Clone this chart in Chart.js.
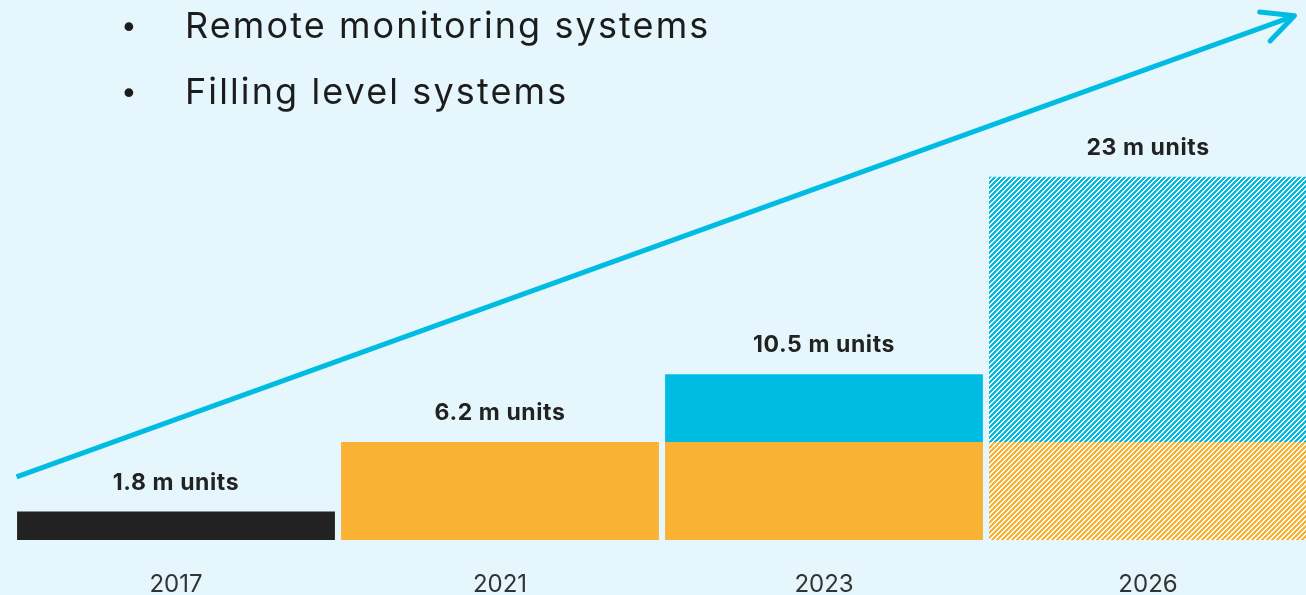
<!DOCTYPE html>
<html>
<head>
<meta charset="utf-8">
<script src="https://cdn.jsdelivr.net/npm/chart.js@4.4.1/dist/chart.umd.min.js"></script>
<style>
  html, body { margin: 0; padding: 0; width: 1306px; height: 595px; overflow: hidden; background: #E5F7FC; }
  #wrap { position: absolute; left: 0; top: 0; width: 1310px; height: 595px; }
  .bullets { position: absolute; left: 0; top: -8px; margin: 0; padding: 0; list-style: none;
             font-family: Inter, "Open Sans", sans-serif; font-size: 36px; line-height: 66px;
             letter-spacing: 2.1px; color: #1c1c1c; }
  .bullets li { position: relative; padding-left: 185px; white-space: nowrap; }
  .bullets li::before { content: "•"; position: absolute; left: 121px; font-size: 28px; letter-spacing: 0; }
</style>
</head>
<body>
<div id="wrap"><canvas id="chart"></canvas></div>
<ul class="bullets">
  <li>Remote monitoring systems</li>
  <li>Filling level systems</li>
</ul>
<script>
// Market size (million units) by year
const years = ['2017', '2021', '2023', '2026'];
const total2017 = [1.8, null, null, null];
const fillingLevel = [null, 6.2, 6.2, null];
const remoteMonitoring = [null, null, 4.3, null];
const fillingLevelForecast = [null, null, null, 6.2];
const remoteMonitoringForecast = [null, null, null, 16.8];

// Growth arrow end points (fraction of plot width, million units)
const arrowX = [0.002, 0.988];
const arrowY = [4.0, 33.2];

const BLUE = '#00BCE2';
const ORANGE = '#F9B233';
const BLACK = '#222222';

// Diagonal stripe fill for forecast bars
function stripes(color) {
  const size = 5;
  const c = document.createElement('canvas');
  c.width = size; c.height = size;
  const g = c.getContext('2d');
  g.fillStyle = '#ffffff';
  g.fillRect(0, 0, size, size);
  g.fillStyle = color;
  for (let y = 0; y < size; y++) {
    for (let x = 0; x < size; x++) {
      if ((x + y) % size < 3) g.fillRect(x, y, 1, 1);
    }
  }
  return g.createPattern(c, 'repeat');
}

const barSeries = [total2017, fillingLevel, remoteMonitoring, fillingLevelForecast, remoteMonitoringForecast];
const totals = years.map((_, i) => barSeries.reduce((s, arr) => s + (arr[i] || 0), 0));

const totalLabels = {
  id: 'totalLabels',
  afterDatasetsDraw(chart) {
    const { ctx, scales } = chart;
    ctx.save();
    ctx.font = 'bold 23px Inter, "Open Sans", sans-serif';
    if ('letterSpacing' in ctx) ctx.letterSpacing = '0.6px';
    ctx.fillStyle = '#222222';
    ctx.textAlign = 'center';
    ctx.textBaseline = 'middle';
    totals.forEach((t, i) => {
      const x = scales.x.getPixelForValue(i);
      const y = scales.y.getPixelForValue(t);
      const txt = (Math.round(t * 10) / 10).toString() + ' m units';
      ctx.fillText(txt, x, y - 29);
    });
    ctx.restore();
  }
};

const arrowHead = {
  id: 'arrowHead',
  afterDatasetsDraw(chart) {
    const idx = chart.data.datasets.findIndex(d => d.type === 'line');
    const pts = chart.getDatasetMeta(idx).data;
    const a = pts[pts.length - 2], b = pts[pts.length - 1];
    const ang = Math.atan2(a.y - b.y, a.x - b.x);
    const len = 35, spread = 26 * Math.PI / 180;
    const ctx = chart.ctx;
    ctx.save();
    ctx.strokeStyle = BLUE;
    ctx.lineWidth = 5;
    ctx.lineCap = 'round';
    ctx.lineJoin = 'round';
    ctx.beginPath();
    ctx.moveTo(b.x + len * Math.cos(ang + spread), b.y + len * Math.sin(ang + spread));
    ctx.lineTo(b.x, b.y);
    ctx.lineTo(b.x + len * Math.cos(ang - spread), b.y + len * Math.sin(ang - spread));
    ctx.stroke();
    ctx.restore();
  }
};

const barCommon = { barPercentage: 1, categoryPercentage: 0.981, borderWidth: 0, grouped: false, xAxisID: 'x', yAxisID: 'y' };

new Chart(document.getElementById('chart'), {
  type: 'bar',
  data: {
    labels: years,
    datasets: [
      { label: 'Total', data: total2017, backgroundColor: BLACK, ...barCommon },
      { label: 'Filling level systems', data: fillingLevel, backgroundColor: ORANGE, ...barCommon },
      { label: 'Remote monitoring systems', data: remoteMonitoring, backgroundColor: BLUE, ...barCommon },
      { label: 'Filling level systems (forecast)', data: fillingLevelForecast, backgroundColor: stripes(ORANGE), ...barCommon },
      { label: 'Remote monitoring systems (forecast)', data: remoteMonitoringForecast, backgroundColor: stripes(BLUE), ...barCommon },
      {
        type: 'line', label: 'Growth',
        data: arrowX.map((x, i) => ({ x, y: arrowY[i] })),
        xAxisID: 'xa', yAxisID: 'ya',
        borderColor: BLUE, borderWidth: 5, pointRadius: 0, clip: false, fill: false
      }
    ]
  },
  options: {
    responsive: true,
    maintainAspectRatio: false,
    animation: false,
    layout: { padding: { left: 14, right: 0, top: 0, bottom: 0 } },
    plugins: { legend: { display: false }, tooltip: { enabled: false } },
    scales: {
      x: {
        stacked: true,
        grid: { display: false, drawTicks: false },
        border: { display: false },
        ticks: { color: '#333333', font: { family: 'Inter, "Open Sans", sans-serif', size: 24 }, padding: 30 },
        afterFit(s) { s.height = 55; }
      },
      y: { stacked: true, display: false, min: 0, max: 34.2 },
      xa: { type: 'linear', display: false, offset: false, min: 0, max: 1 },
      ya: { display: false, min: 0, max: 34.2 }
    }
  },
  plugins: [totalLabels, arrowHead]
});
</script>
</body>
</html>
